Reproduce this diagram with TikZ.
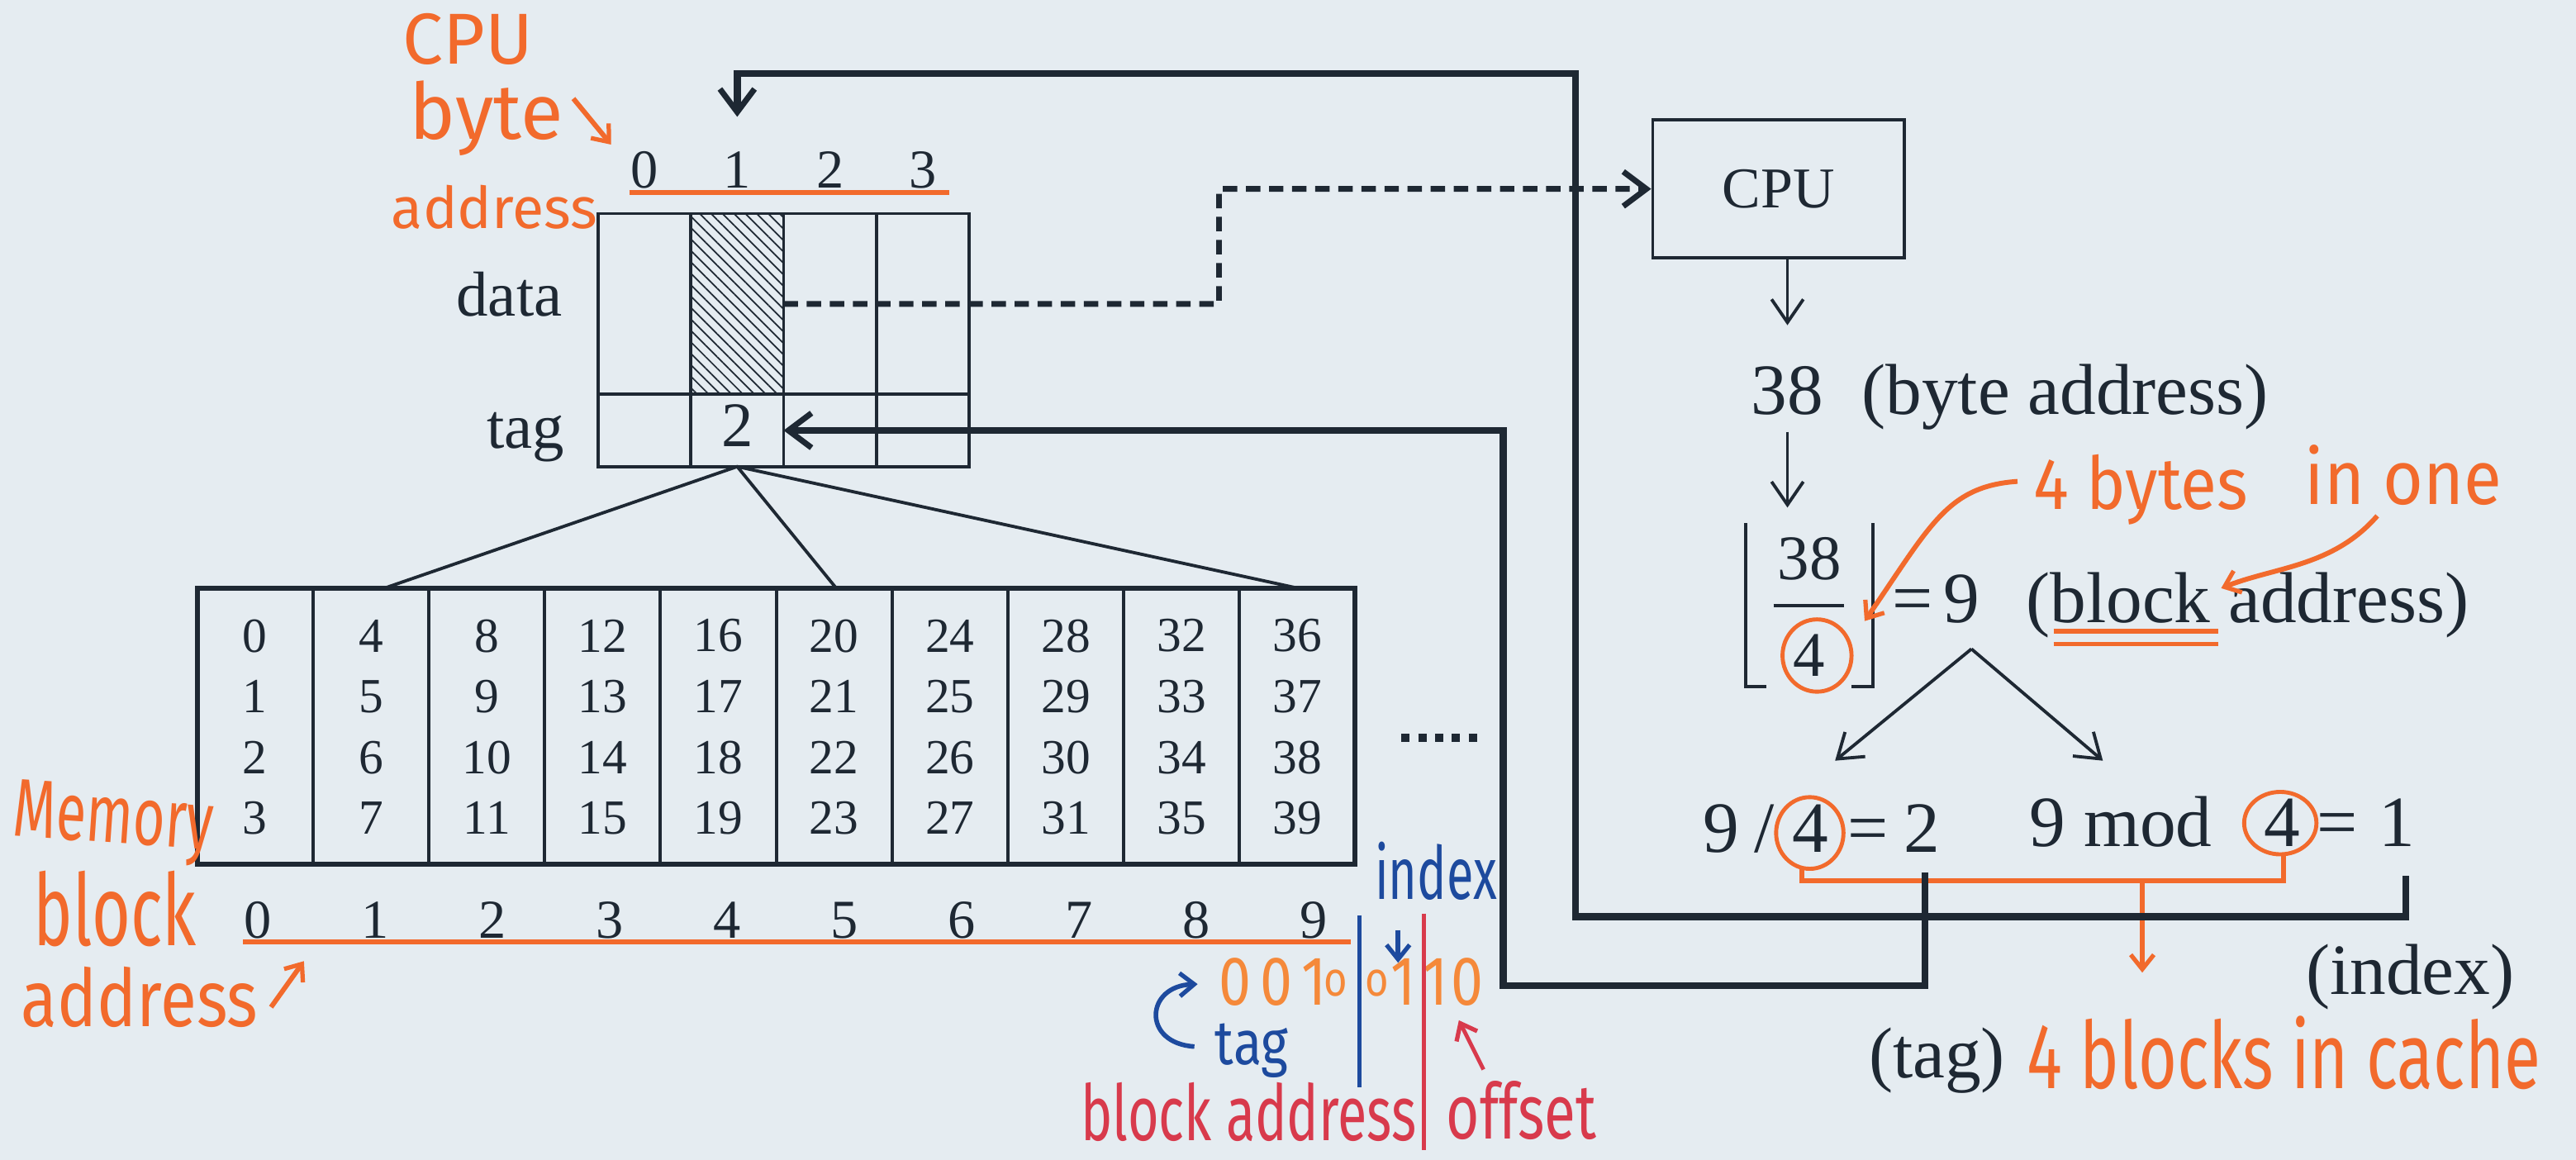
\documentclass[tikz,border=0pt]{standalone}
\usepackage{fontspec}
\setmainfont{Liberation Serif}
\newfontfamily\handfont{Fira Sans}
\usetikzlibrary{arrows.meta,patterns.meta,calc}
\definecolor{bg}{HTML}{E5ECF1}
\definecolor{ink}{HTML}{1E2833}
\definecolor{org}{HTML}{F26A2C}
\definecolor{lorg}{HTML}{F5893A}
\definecolor{pblue}{HTML}{1D4A9E}
\definecolor{pred}{HTML}{D83A4C}
\newcommand\fsz[1]{\fontsize{#1}{#1}\selectfont}
\newcommand\hws[3]{{\handfont\fontsize{#1}{#1}\selectfont\scalebox{1}[#2]{#3}}}
\tikzset{
  cell/.style={draw=ink, line width=1.1pt, inner sep=0pt, outer sep=0pt, anchor=north west, minimum width=1.13cm},
  mcol/.style={draw=ink, line width=1.1pt, inner sep=0pt, outer sep=0pt, anchor=north west, minimum width=1.41cm, minimum height=3.36cm},
  memframe/.style={draw=ink, line width=1.7pt, inner sep=0pt, outer sep=0pt, anchor=north west, minimum width=14.1cm, minimum height=3.36cm},
  lbl/.style={text=ink, inner sep=0pt, font=\fsz{22pt}},
  big/.style={text=ink, inner sep=0pt, font=\fsz{25pt}},
  memnum/.style={text=ink, inner sep=0pt, font=\fsz{17pt}},
  idxnum/.style={text=ink, inner sep=0pt, font=\fsz{19pt}},
  route/.style={draw=ink, line width=2.4pt},
  thinline/.style={draw=ink, line width=1.1pt},
  tip/.style={-{Straight Barb[length=8pt,width=11pt,line width=1.1pt]}},
  bigtip/.style={-{Straight Barb[length=8pt,width=12pt,line width=2pt]}},
  hand/.style={inner sep=0pt},
  orgpen/.style={draw=org, line width=1.7pt},
  orgtip/.style={-{Straight Barb[length=5pt,width=8pt,line width=1.5pt]}},
  bluepen/.style={draw=pblue, line width=1.6pt},
  redpen/.style={draw=pred, line width=1.4pt},
  ring/.style={draw=org, line width=1.4pt},
}
\begin{document}
\begin{tikzpicture}[x=0.02cm,y=-0.02cm]
\fill[bg] (0,0) rectangle (1568,706);
\useasboundingbox (0,0) rectangle (1568,706);

% ---------------- cache line ----------------
\foreach \i in {0,...,3}{
  \node[cell, minimum height=2.2cm] (d\i) at ({364+56.5*\i},130) {};
  \node[cell, minimum height=0.88cm] (t\i) at ({364+56.5*\i},240) {};
}
\fill[pattern={Lines[angle=-45,distance=2.8pt,line width=0.5pt]}, pattern color=ink] (d1.north west) rectangle (d1.south east);
\draw[thinline] (d1.north west) rectangle (d1.south east);
\node[lbl, anchor=base] (ldata) at (310,192.5) {data};
\node[lbl, anchor=base] (ltag) at (320,273) {tag};
\node[lbl, anchor=base] (tv) at (448.75,272) {2};
\foreach \i in {0,...,3}{
  \node[idxnum, anchor=base] (b\i) at ({392.25+56.5*\i},114.5) {\i};
}
\draw[orgpen] (383,117) -- (578,117);

% ---------------- memory ----------------
\foreach \k in {0,...,9}{
  \node[mcol] (m\k) at ({120+70.5*\k},358) {};
}
\node[memframe] (mem) at (120,358) {};
\foreach \k in {0,...,9}{
  \foreach \r/\yy in {0/387,1/424,2/461,3/498}{
    \pgfmathtruncatemacro{\v}{4*\k+\r}
    \node[memnum] (n\v) at ({155.25+70.5*\k},\yy) {\v};
  }
}
\foreach \k in {0,...,9}{
  \node[idxnum, anchor=base] (a\k) at ({157+71.4*\k},571) {\k};
}
\draw[orgpen] (148,573.5) -- (822,573.5);
\draw[ink, line width=0.1cm, dash pattern=on 0.1cm off 0.105cm] (853,449) -- (899,449);

\coordinate (mA) at (234,358);
\coordinate (mB) at (509,358);
\coordinate (mC) at (790,358);
\draw[thinline] (mA) -- (t1.south) -- (mC);
\draw[thinline] (t1.south) -- (mB);

% ---------------- CPU side ----------------
\node[draw=ink, line width=1.1pt, minimum width=3.06cm, minimum height=1.68cm, inner sep=0pt, text=ink, font=\fsz{20pt}] (cpu) at (1082.5,115) {CPU};
\node[big, anchor=base] (b38) at (1088,252) {38};
\node[big, anchor=base] (bba) at (1257,252) {(byte address)};
\draw[thinline, tip] (cpu.south -| b38.north) -- ([yshift=0.49cm]b38.north);

\node[text=ink, inner sep=0pt, font=\fsz{22pt}, anchor=base] (f38) at (1101.5,353) {38};
\node[text=ink, inner sep=0pt, font=\fsz{22pt}, anchor=base] (f4) at (1101,411.5) {4};
\draw[thinline, tip] ([yshift=-0.2cm]b38.south) -- ([yshift=0.36cm]b38.south |- f38.north);
\draw[thinline] (1079.5,368.7) -- (1122.3,368.7);
\draw[thinline] (1075,418) -- (1062.7,418) -- (1062.7,318.5);
\draw[thinline] (1127,418) -- (1140,418) -- (1140,318.5);
\draw[ring] (1106,399) ellipse [x radius=21, y radius=22];

\node[big, anchor=base] (eq9) at (1164,379) {=};
\node[big, anchor=base] (v9) at (1194,379) {9};
\node[big, anchor=base] (bla) at (1368,379) {(block address)};
\draw[orgpen] (1250,384) -- (1350,384);
\draw[orgpen] (1250,392) -- (1350,392);

\coordinate (apex) at (1200,395);
\coordinate (vl) at (1117,463);
\coordinate (vr) at (1280,463);
\draw[thinline, tip] (apex) -- (vl);
\draw[thinline, tip] (apex) -- (vr);

\node[big, anchor=base] (q9) at (1047.7,518.8) {9};
\node[big, anchor=base] (qs) at (1074,518.8) {/};
\node[big, anchor=base] (q4) at (1102,518.8) {4};
\node[big, anchor=base] (qe) at (1137.3,518.8) {=};
\node[big, anchor=base] (q2) at (1170,518.8) {2};
\node[big, anchor=base] (r9) at (1291,515) {9 mod};
\node[big, anchor=base] (r4) at (1389,515) {4};
\node[big, anchor=base] (re) at (1422.7,515) {=};
\node[big, anchor=base] (r1) at (1459,515) {1};
\draw[ring] (1101.6,507) ellipse [x radius=20.5, y radius=21.8];
\draw[ring] (1388,501) ellipse [x radius=22, y radius=19];
\draw[orgpen] (1097,529) -- (1097,536) -- (1390,536) -- (1390,520);
\coordinate (obr) at (1304,536);
\coordinate (obt) at (1304,592);
\draw[orgpen, orgtip] (obr) -- (obt);

\node[big, anchor=base] (ltagr) at (1179,656) {(tag)};
\node[big, anchor=base] (lidx) at (1467,605) {(index)};

% ---------------- routes ----------------
\coordinate (tagsrc) at (1171.7,531);
\draw[route, bigtip] (tagsrc) -- (1171.7,600) -- (915,600) |- (t1.east);
\coordinate (idxsrc) at (1464.3,533);
\draw[route, bigtip] (idxsrc) -- (1464.3,558) -- (959,558) -- (959,44.7) -| ([yshift=0.42cm]b1.north);
\draw[ink, line width=2pt, dash pattern=on 5pt off 3pt, bigtip] (d1.east) -- (742,185) |- (cpu.west);

% ---------------- handwriting ----------------
\node[hand, text=org] (hcpu) at (285,24) {\hws{25pt}{1}{CPU}};
\node[hand, text=org] (hbyte) at (296,72) {\hws{27pt}{1}{byte}};
\node[hand, text=org] (haddr) at (301,126) {\hws{20pt}{1}{address}};
\coordinate (ha1) at (349,60);
\coordinate (ha2) at (372,88);
\draw[orgpen, orgtip] (ha1) -- (ha2);

\node[hand, text=org, rotate=-4] (hmem) at (69,501) {\hws{19pt}{1.5}{Memory}};
\node[hand, text=org] (hblk) at (70,553) {\hws{23pt}{1.5}{block}};
\node[hand, text=org] (hmadr) at (85,607) {\hws{23pt}{1.2}{address}};
\coordinate (hm1) at (165,613);
\coordinate (hm2) at (185,585);
\draw[orgpen, orgtip] (hm1) -- (hm2);

\node[hand, text=org] (h4b) at (1303,298) {\hws{23pt}{1.1}{4 bytes}};
\node[hand, text=org] (hin) at (1463,289) {\hws{24pt}{1.1}{in one}};
\coordinate (p1s) at (1228,293);
\coordinate (p1e) at (1135,378);
\draw[orgpen, orgtip] (p1s) .. controls (1185,296) and (1175,320) .. (p1e);
\coordinate (p2s) at (1447,314);
\coordinate (p2e) at (1352,358);
\draw[orgpen, orgtip] (p2s) .. controls (1420,345) and (1385,345) .. (p2e);

\node[hand, text=org] (hcache) at (1390,641) {\hws{23pt}{1.4}{4 blocks in cache}};

% binary
\foreach \xx/\dd/\ss/\yb [count=\c] in {752/0/20pt/612,777/0/20pt/612,800/1/20pt/612,813/o/14pt/606,838/o/14pt/606,854/1/20pt/612,874/1/20pt/612,893/0/20pt/612}{
  \node[hand, text=lorg, anchor=base] (bin\c) at (\xx,\yb) {\hws{\ss}{1.2}{\dd}};
}
\coordinate (bl1) at (827.5,557);
\coordinate (bl2) at (827.5,662);
\draw[bluepen] (bl1) -- (bl2);
\coordinate (rl1) at (866.6,556);
\coordinate (rl2) at (866.6,700);
\draw[redpen] (rl1) -- (rl2);
\node[hand, text=pblue] (hidx) at (874,530) {\hws{17pt}{1.5}{index}};
\coordinate (ib1) at (851,566);
\coordinate (ib2) at (851,586);
\draw[bluepen, orgtip] (ib1) -- (ib2);
\node[hand, text=pblue, anchor=base] (htag) at (762,648) {\hws{18pt}{1.2}{tag}};
\coordinate (c1) at (727,637);
\coordinate (c2) at (729,599);
\draw[bluepen, orgtip] (c1) .. controls (695,635) and (697,600) .. (c2);
\node[hand, text=pred] (hba) at (760,677) {\hws{18.5pt}{1.45}{block address}};
\node[hand, text=pred] (hoff) at (926,676) {\hws{19.8pt}{1.35}{offset}};
\coordinate (of1) at (903,651);
\coordinate (of2) at (888,621);
\draw[redpen, orgtip] (of1) -- (of2);
\end{tikzpicture}
\end{document}
